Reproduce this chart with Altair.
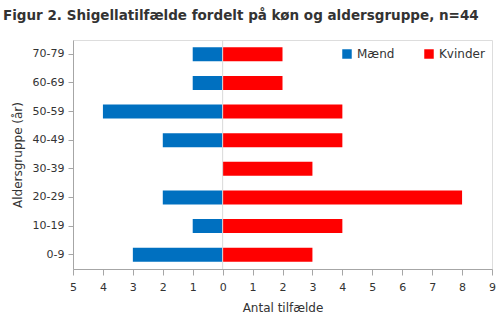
import altair as alt
import pandas as pd

ages = ["70-79", "60-69", "50-59", "40-49", "30-39", "20-29", "10-19", "0-9"]
maend = [1, 1, 4, 2, 0, 2, 1, 3]
kvinder = [2, 2, 4, 4, 3, 8, 4, 3]
sexes = ["Mænd", "Kvinder"]
colors = ["#0070C0", "#FF0000"]
xticks = [-5, -4, -3, -2, -1, 0, 1, 2, 3, 4, 5, 6, 7, 8, 9]

rows = []
for a, m, k in zip(ages, maend, kvinder):
    rows.append({"age": a, "sex": "Mænd", "value": -m})
    rows.append({"age": a, "sex": "Kvinder", "value": k})
df = pd.DataFrame(rows)

FONT = "DejaVu Sans"

xaxis = alt.Axis(values=xticks, labelExpr="abs(datum.value)",
                 title="Antal tilfælde", grid=False, tickSize=6,
                 labelOverlap=False, labelBound=False, labelFlush=False,
                 domainColor="#a6a6a6", tickColor="#a6a6a6",
                 labelColor="#333333", titleColor="#333333",
                 labelFontSize=11, titleFontSize=12, titleFontWeight="normal",
                 labelFont=FONT, titleFont=FONT, labelPadding=6, titlePadding=10)
xscale = alt.Scale(domain=[-5, 9], nice=False)

bars = alt.Chart(df).mark_bar(size=14).encode(
    x=alt.X("value:Q", scale=xscale, axis=xaxis),
    y=alt.Y("age:N", sort=ages,
            axis=alt.Axis(title="Aldersgruppe (år)", tickSize=5,
                          domainColor="#a6a6a6", tickColor="#a6a6a6",
                          labelColor="#333333", titleColor="#333333",
                          labelFontSize=11, titleFontSize=12, titleFontWeight="normal",
                          labelFont=FONT, titleFont=FONT, labelPadding=4, titlePadding=8)),
    color=alt.Color("sex:N", scale=alt.Scale(domain=sexes, range=colors),
                    legend=alt.Legend(title=None, orient="none", legendX=268, legendY=8,
                                      direction="horizontal", symbolType="square",
                                      symbolSize=90, labelFontSize=12, labelFont=FONT,
                                      labelColor="#333333", columnPadding=28,
                                      symbolStrokeWidth=0)),
)

zero = alt.Chart(pd.DataFrame({"value": [0]})).mark_rule(color="#d9d9d9", strokeWidth=1).encode(
    x=alt.X("value:Q", scale=xscale, axis=xaxis))

chart = alt.layer(bars, zero).properties(
    width=419, height=229,
    padding={"left": 73, "top": 40, "right": 8, "bottom": 56},
    autosize=alt.AutoSizeParams(type="none"),
    title=alt.TitleParams("Figur 2. Shigellatilfælde fordelt på køn og aldersgruppe, n=44",
                          anchor="start", frame="group", dx=-70, offset=17, fontSize=13.5,
                          font=FONT, fontWeight="bold", color="#333333"),
).configure_view(stroke=None).configure(background="white")

chart.save("out.html", embed_options={"renderer": "svg", "actions": False})
